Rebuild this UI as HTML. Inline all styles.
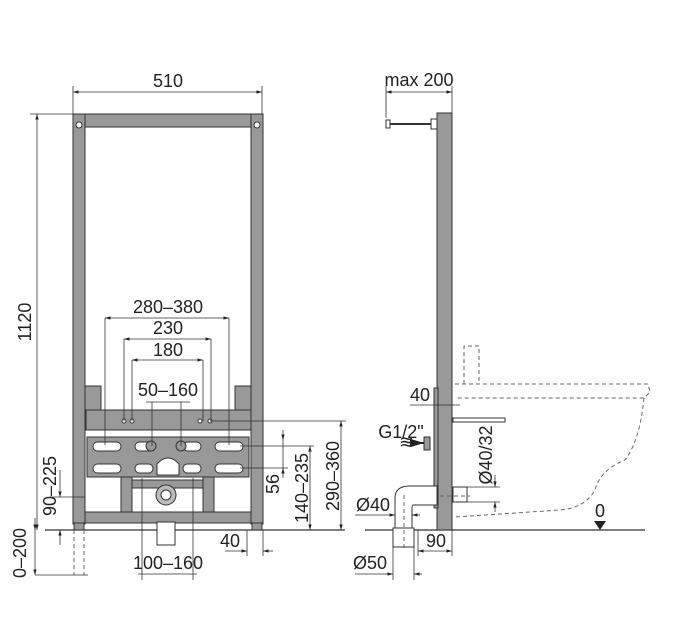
<!DOCTYPE html>
<html><head><meta charset="utf-8"><style>
body{margin:0;background:#fff}
svg{display:block}
text{font-family:"Liberation Sans","DejaVu Sans",sans-serif;font-size:18px;fill:#222}
.d{stroke:#333;stroke-width:0.8;fill:none}
.f{fill:#999;stroke:#333;stroke-width:1}
.s{fill:#fff;stroke:#333;stroke-width:1}
.dash{stroke:#666;stroke-width:1;fill:none;stroke-dasharray:4 3}
</style></head><body>
<svg width="675" height="630" viewBox="0 0 675 630" xmlns="http://www.w3.org/2000/svg">
<defs>
<marker id="a" viewBox="0 0 10 10" refX="10" refY="5" markerWidth="7" markerHeight="7" orient="auto-start-reverse"><path d="M0,2 L10,5 L0,8 z" fill="#222"/></marker>
</defs>

<line x1="45" y1="530" x2="345" y2="530" stroke="#333" stroke-width="1.2"/>
<line x1="365" y1="530" x2="645" y2="530" stroke="#333" stroke-width="1.2"/>

<!-- FRONT FRAME -->
<rect class="f" x="73" y="114" width="190" height="13"/>
<rect class="f" x="73" y="114" width="12" height="410"/>
<rect class="f" x="251" y="114" width="12" height="410"/>
<circle cx="79" cy="125" r="3" fill="#fff" stroke="#333"/>
<circle cx="257" cy="125" r="3" fill="#fff" stroke="#333"/>
<rect class="f" x="86" y="410" width="165" height="20"/>
<rect class="f" x="85" y="386" width="16" height="24"/>
<rect class="f" x="235" y="386" width="16" height="24"/>
<circle cx="124" cy="421" r="2" fill="#fff" stroke="#333"/>
<circle cx="132" cy="421" r="2" fill="#fff" stroke="#333"/>
<circle cx="200" cy="421" r="2" fill="#fff" stroke="#333"/>
<circle cx="210" cy="421" r="2" fill="#fff" stroke="#333"/>
<rect class="f" x="87" y="437" width="162" height="40"/>
<rect class="f" x="121" y="477" width="11" height="35"/>
<rect class="f" x="203" y="477" width="11" height="35"/>
<rect class="f" x="132" y="480" width="71" height="8"/>
<rect class="f" x="85" y="512" width="166" height="11"/>
<rect class="f" x="74" y="523" width="10" height="7"/>
<rect class="f" x="252" y="523" width="10" height="7"/>
<g fill="#fff" stroke="#333">
<rect x="93" y="442" width="28" height="9" rx="4.5"/><rect x="135" y="442" width="18" height="9" rx="4.5"/><rect x="183" y="442" width="18" height="9" rx="4.5"/><rect x="215" y="442" width="28" height="9" rx="4.5"/>
<rect x="93" y="464" width="28" height="9" rx="4.5"/><rect x="135" y="464" width="18" height="9" rx="4.5"/><rect x="183" y="464" width="18" height="9" rx="4.5"/><rect x="215" y="464" width="28" height="9" rx="4.5"/>
<path d="M157,475 L157,464 Q168,452 179,464 L179,475 z"/>
</g>
<circle cx="151" cy="446" r="5" fill="#999" stroke="#333"/>
<circle cx="181" cy="446" r="5" fill="#999" stroke="#333"/>
<circle cx="166" cy="495" r="10" fill="#bbb" stroke="#333"/>
<circle cx="166" cy="495" r="5" fill="#fff" stroke="#333"/>
<rect x="157" y="522" width="18" height="23" fill="#fff" stroke="#333"/>

<!-- front dims -->
<line class="d" x1="73" y1="86" x2="73" y2="114"/><line class="d" x1="262" y1="86" x2="262" y2="114"/>
<line class="d" x1="73" y1="92" x2="262" y2="92" marker-start="url(#a)" marker-end="url(#a)"/>
<text x="168" y="87" text-anchor="middle">510</text>
<line class="d" x1="30" y1="114" x2="73" y2="114"/>
<line class="d" x1="37" y1="114" x2="37" y2="530" marker-start="url(#a)" marker-end="url(#a)"/>
<text transform="translate(31,322) rotate(-90)" text-anchor="middle">1120</text>

<line class="d" x1="105" y1="318" x2="105" y2="445"/><line class="d" x1="229" y1="318" x2="229" y2="445"/>
<line class="d" x1="105" y1="318" x2="229" y2="318" marker-start="url(#a)" marker-end="url(#a)"/>
<text x="168" y="313" text-anchor="middle">280–380</text>
<line class="d" x1="124" y1="339" x2="124" y2="421"/><line class="d" x1="211" y1="339" x2="211" y2="421"/>
<line class="d" x1="124" y1="339" x2="211" y2="339" marker-start="url(#a)" marker-end="url(#a)"/>
<text x="168" y="334" text-anchor="middle">230</text>
<line class="d" x1="132" y1="360" x2="132" y2="421"/><line class="d" x1="203" y1="360" x2="203" y2="421"/>
<line class="d" x1="132" y1="360" x2="203" y2="360" marker-start="url(#a)" marker-end="url(#a)"/>
<text x="168" y="356" text-anchor="middle">180</text>
<line class="d" x1="152" y1="402" x2="152" y2="446"/><line class="d" x1="181" y1="402" x2="181" y2="446"/>
<line class="d" x1="146" y1="402" x2="190" y2="402"/>
<text x="168" y="396" text-anchor="middle">50–160</text>

<line class="d" x1="210" y1="421" x2="346" y2="421"/>
<line class="d" x1="341" y1="421" x2="341" y2="530" marker-start="url(#a)" marker-end="url(#a)"/>
<text transform="translate(339,476) rotate(-90)" text-anchor="middle">290–360</text>
<line class="d" x1="240" y1="446" x2="314" y2="446"/>
<line class="d" x1="310" y1="446" x2="310" y2="530" marker-start="url(#a)" marker-end="url(#a)"/>
<text transform="translate(308,488) rotate(-90)" text-anchor="middle">140–235</text>
<line class="d" x1="240" y1="468" x2="288" y2="468"/>
<line class="d" x1="283" y1="430" x2="283" y2="440" marker-end="url(#a)"/>
<line class="d" x1="283" y1="478" x2="283" y2="468" marker-end="url(#a)"/>
<line class="d" x1="283" y1="440" x2="283" y2="468"/>
<text transform="translate(279,484) rotate(-90)" text-anchor="middle">56</text>

<line class="d" x1="247" y1="530" x2="247" y2="556"/><line class="d" x1="263" y1="530" x2="263" y2="556"/>
<line class="d" x1="225" y1="551" x2="247" y2="551" marker-end="url(#a)"/><line class="d" x1="273" y1="551" x2="263" y2="551" marker-end="url(#a)"/>
<text x="230" y="547" text-anchor="middle">40</text>
<line class="d" x1="142" y1="478" x2="142" y2="580"/><line class="d" x1="193" y1="478" x2="193" y2="580"/>
<line class="d" x1="138" y1="574" x2="197" y2="574"/>
<text x="168" y="569" text-anchor="middle">100–160</text>

<line class="d" x1="50" y1="497" x2="85" y2="497"/>
<line class="d" x1="60" y1="470" x2="60" y2="497" marker-end="url(#a)"/>
<line class="d" x1="60" y1="545" x2="60" y2="530" marker-end="url(#a)"/>
<text transform="translate(56,486) rotate(-90)" text-anchor="middle">90–225</text>
<line class="d" x1="35" y1="518" x2="35" y2="530" marker-end="url(#a)"/>
<line class="d" x1="35" y1="530" x2="35" y2="575" marker-end="url(#a)"/>
<line class="d" x1="35" y1="575" x2="88" y2="575"/>
<text transform="translate(26,553) rotate(-90)" text-anchor="middle">0–200</text>
<line class="dash" x1="74" y1="530" x2="74" y2="575"/><line class="dash" x1="84" y1="530" x2="84" y2="575"/>

<!-- SIDE VIEW -->
<rect class="f" x="437" y="113" width="15" height="417"/>
<rect class="s" x="431" y="119" width="6" height="10"/>
<line x1="390" y1="124" x2="431" y2="124" stroke="#333" stroke-width="2"/>
<rect class="s" x="386" y="120" width="4" height="8"/>
<line class="d" x1="386" y1="86" x2="386" y2="118"/><line class="d" x1="452" y1="86" x2="452" y2="113"/>
<line class="d" x1="386" y1="92" x2="452" y2="92" marker-start="url(#a)" marker-end="url(#a)"/>
<text x="419" y="86" text-anchor="middle">max 200</text>
<rect class="f" x="434" y="388" width="4" height="120"/>
<path class="dash" d="M464,384 L464,346 L479,346 L479,384"/>
<path class="dash" d="M455,384 L648,384 L650,392 L644,398 L455,398"/>
<path class="dash" d="M644,398 Q640,440 625,460 Q600,470 595,490 Q585,508 560,510 L455,517"/>
<rect class="s" x="453" y="418" width="52" height="4"/>
<rect class="s" x="453" y="487" width="14" height="15"/>
<line class="dash" x1="412" y1="496" x2="470" y2="496"/>
<path class="s" d="M395,545 L395,498 Q395,486 410,486 L437,486 L437,505 L413,505 Q412,505 412,510 L412,545 z"/>
<rect class="s" x="393" y="528" width="21" height="19"/>
<line class="dash" x1="404" y1="495" x2="404" y2="550"/>
<rect x="424" y="437" width="6" height="13" fill="#999" stroke="#333"/>
<path d="M412,443 L424,443" stroke="#222" stroke-width="2" marker-end="url(#a)"/>
<text x="401" y="438" text-anchor="middle">G1/2"</text>
<text x="399" y="448" font-size="10" fill="#555">≋</text>
<line class="d" x1="410" y1="405" x2="460" y2="405"/>
<line class="d" x1="452" y1="400" x2="452" y2="410"/>
<text x="420" y="401" text-anchor="middle">40</text>
<line class="d" x1="467" y1="487" x2="500" y2="487"/><line class="d" x1="467" y1="502" x2="500" y2="502"/>
<line class="d" x1="495" y1="475" x2="495" y2="487" marker-end="url(#a)"/><line class="d" x1="495" y1="512" x2="495" y2="502" marker-end="url(#a)"/>
<text transform="translate(492,455) rotate(-90)" text-anchor="middle">Ø40/32</text>
<line class="d" x1="355" y1="515" x2="395" y2="515" marker-end="url(#a)"/>
<line class="d" x1="420" y1="515" x2="412" y2="515" marker-end="url(#a)"/>
<text x="373" y="511" text-anchor="middle">Ø40</text>
<line class="d" x1="418" y1="530" x2="418" y2="556"/><line class="d" x1="452" y1="530" x2="452" y2="556"/>
<line class="d" x1="418" y1="551" x2="452" y2="551" marker-start="url(#a)" marker-end="url(#a)"/>
<text x="436" y="547" text-anchor="middle">90</text>
<line class="d" x1="393" y1="547" x2="393" y2="580"/><line class="d" x1="414" y1="547" x2="414" y2="580"/>
<line class="d" x1="355" y1="574" x2="393" y2="574" marker-end="url(#a)"/>
<line class="d" x1="422" y1="574" x2="414" y2="574" marker-end="url(#a)"/>
<text x="370" y="569" text-anchor="middle">Ø50</text>
<path d="M594,521 L606,521 L600,530 z" fill="#222"/>
<text x="600" y="517" text-anchor="middle">0</text>
</svg>
</body></html>
